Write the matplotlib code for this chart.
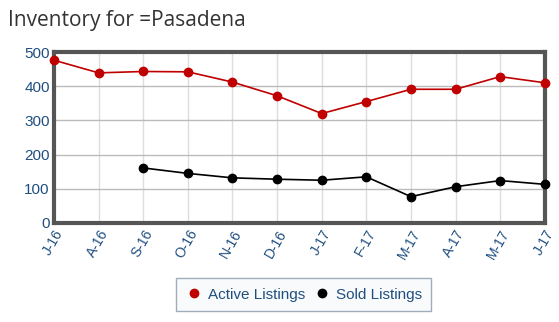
import matplotlib.pyplot as plt
from matplotlib.lines import Line2D

months = ["J-16", "A-16", "S-16", "O-16", "N-16", "D-16",
          "J-17", "F-17", "M-17", "A-17", "M-17", "J-17"]
active = [476, 439, 443, 442, 412, 372, 320, 355, 391, 391, 428, 410]
sold = [None, None, 161, 145, 132, 128, 125, 135, 77, 106, 124, 113]

red = "#c00000"
tick_color = "#1f4f80"
sans = "Liberation Sans"

fig = plt.figure(figsize=(5.59, 3.22), dpi=100)
ax = fig.add_axes([0.0966, 0.3075, 0.878, 0.531])

x = list(range(len(months)))
sx = [i for i, v in zip(x, sold) if v is not None]
sv = [v for v in sold if v is not None]

ax.plot(x, active, color=red, lw=1.2, marker="o", ms=6, zorder=3, clip_on=False)
ax.plot(sx, sv, color="black", lw=1.2, marker="o", ms=6, zorder=3, clip_on=False)

ax.set_xlim(0, len(months) - 1)
ax.set_ylim(0, 500)
ax.set_yticks(range(0, 501, 100))
ax.set_xticks(x)
ax.set_xticklabels(months, rotation=60, ha="right", rotation_mode="anchor",
                   fontsize=10, color=tick_color, family=sans)
for lbl in ax.get_yticklabels():
    lbl.set_fontsize(11)
    lbl.set_color(tick_color)
    lbl.set_family(sans)
ax.tick_params(length=0, pad=3)

ax.grid(True, axis="x", color="#dddddd", lw=1)
ax.grid(True, axis="y", color="#bbbbbb", lw=1)
ax.set_axisbelow(True)
for s in ax.spines.values():
    s.set_color("#555555")
    s.set_linewidth(3)

fig.text(0.014, 0.935, "Inventory for =Pasadena", fontsize=15,
         color="#333333", family="Open Sans", va="center")

# legend box under the axes
handles = [Line2D([], [], color=red, marker="o", ls="none", ms=6),
           Line2D([], [], color="black", marker="o", ls="none", ms=6)]
leg = fig.legend(handles, ["Active Listings", "Sold Listings"], ncol=2,
                 loc="center", bbox_to_anchor=(0.543, 0.085), frameon=True,
                 prop={"family": sans, "size": 11}, handletextpad=0.3,
                 columnspacing=0.5, handlelength=1.2, borderpad=0.6,
                 fancybox=False)
frame = leg.get_frame()
frame.set_facecolor("#f8f9fb")
frame.set_edgecolor("#8a9aab")
frame.set_linewidth(1)
for t in leg.get_texts():
    t.set_color(tick_color)

fig.savefig("out.png", dpi=100)
